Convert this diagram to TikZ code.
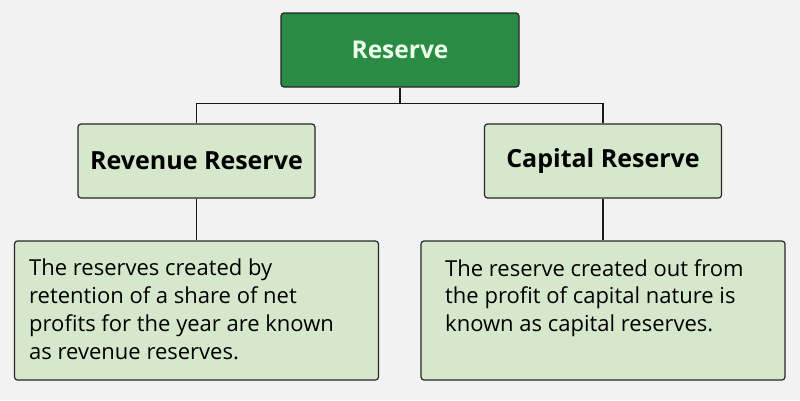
\documentclass[tikz,border=0pt]{standalone}
\usepackage{fontspec}
\setmainfont{Open Sans}
\usetikzlibrary{positioning}

\definecolor{bgcol}{HTML}{F2F2F2}
\definecolor{topgreen}{HTML}{2A8B45}
\definecolor{palegreen}{HTML}{D5E8CC}

\tikzset{
  topbox/.style={draw=black!85, fill=topgreen, rounded corners=3pt, line width=1.2pt,
    minimum width=238pt, minimum height=74pt, text=white!92!green,
    font=\fontsize{24.5}{28}\selectfont\bfseries},
  headbox/.style={draw=black!85, fill=palegreen, rounded corners=3pt, line width=1.2pt,
    minimum width=237pt, minimum height=74pt, font=\fontsize{25}{28}\selectfont\bfseries},
  notebox/.style={draw=black!85, fill=palegreen, rounded corners=3pt, line width=1.2pt,
    minimum width=364pt, minimum height=139pt},
  notetext/.style={anchor=north west, align=left, inner sep=0pt,
    font=\fontsize{22}{27.8}\selectfont},
  link/.style={line width=1.6pt, black!90},
}

\begin{document}
\begin{tikzpicture}[x=1pt,y=-1pt]
\fill[bgcol] (0,0) rectangle (800,400);
\useasboundingbox (0,0) rectangle (800,400);

% BOXES
\node[topbox] (reserve) at (400,50) {Reserve};

\node[headbox] (revenue) at (196.5,161) {Revenue Reserve};
\node[headbox] (capital) at (603,161) {Capital Reserve};

\node[notebox] (revnote) at (196.5,310.5) {};
\node[notebox] (capnote) at (603,310.5) {};

% NOTES
\node[notetext] (revtext) at (29,259)
  {The reserves created by\\ retention of a share of net\\ profits for the year are known\\ as revenue reserves.};
\node[notetext] (captext) at (445,259)
  {The reserve created out from\\ the profit of capital nature is\\ known as capital reserves.};

% LINKS
\draw[link] (reserve.south) -- ++(0,16) coordinate (split) -| (revenue.north);
\draw[link] (split) -| (capital.north);
\draw[link] (revenue.south) -- (revnote.north);
\draw[link] (capital.south) -- (capnote.north);

\end{tikzpicture}
\end{document}
